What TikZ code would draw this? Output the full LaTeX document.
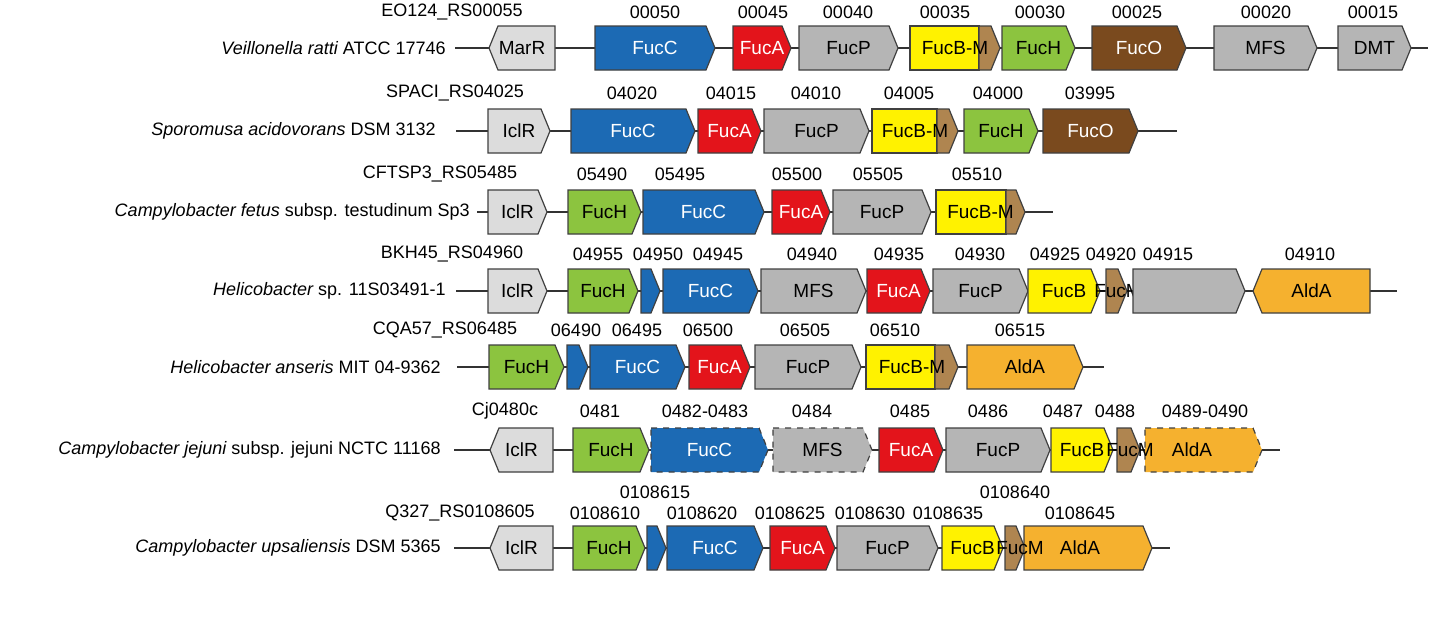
\documentclass[tikz,border=0pt]{standalone}
\usepackage{fontspec}
\setmainfont{Liberation Sans}
\definecolor{lg}{HTML}{DCDCDC}
\definecolor{mg}{HTML}{B5B5B5}
\definecolor{fb}{HTML}{1C6AB4}
\definecolor{fr}{HTML}{E3141B}
\definecolor{fy}{HTML}{FFF200}
\definecolor{fm}{HTML}{AF8550}
\definecolor{fgr}{HTML}{8CC43F}
\definecolor{fo}{HTML}{7A4A1E}
\definecolor{al}{HTML}{F5B12F}
\tikzset{gbox/.style={draw=black!75,line width=0.6pt,line join=miter},
  gtxt/.style={font=\fontsize{9.5}{11}\selectfont,inner sep=0pt},
  ltxt/.style={font=\fontsize{9}{11}\selectfont,inner sep=0pt},
  stxt/.style={font=\fontsize{9}{11}\selectfont,inner sep=0pt,anchor=east},
  bline/.style={draw=black!80,line width=0.8pt}}
% right-pointing gene: opts, x1, x2, y, fill, text, textcolor
\newcommand\gR[7]{\fill[#5] (#2,#4-22)--(#3-9,#4-22)--(#3,#4)--(#3-9,#4+22)--(#2,#4+22)--cycle;
 \draw[gbox,#1] (#2,#4-22)--(#3-9,#4-22)--(#3,#4)--(#3-9,#4+22)--(#2,#4+22)--cycle;
 \node[gtxt,text=#7] at ({(#2+#3)/2},#4) {#6};}
\newcommand\gL[7]{\fill[#5] (#3,#4-22)--(#2+9,#4-22)--(#2,#4)--(#2+9,#4+22)--(#3,#4+22)--cycle;
 \draw[gbox,#1] (#3,#4-22)--(#2+9,#4-22)--(#2,#4)--(#2+9,#4+22)--(#3,#4+22)--cycle;
 \node[gtxt,text=#7] at ({(#2+#3)/2},#4) {#6};}
% FucB-M fused: x1 x2 x3 y
\newcommand\gBM[4]{\draw[gbox,fill=fy] (#1,#4-22) rectangle (#2,#4+22);
 \gR{}{#2}{#3}{#4}{fm}{}{black}
 \node[gtxt] at ({(#1+#3)/2},#4) {FucB-M};}
\newcommand\lab[3]{\node[ltxt] at (#1,#2) {#3};}
\begin{document}
\begin{tikzpicture}[x=0.5pt,y=-0.5pt]
\useasboundingbox[fill=white] (0,0) rectangle (1440,622);
% Row 1
\node[stxt] (s1) at (446,48) {\itshape Veillonella ratti\upshape\ ATCC 17746};
\draw[bline] (455,48) -- (1428,48);
\gL{}{489}{555}{48}{lg}{MarR}{black}
\gR{}{595}{715}{48}{fb}{FucC}{white}
\gR{}{733}{791}{48}{fr}{FucA}{white}
\gR{}{799}{898}{48}{mg}{FucP}{black}
\gBM{910}{979}{1000}{48}
\gR{}{1002}{1075}{48}{fgr}{FucH}{black}
\gR{}{1092}{1186}{48}{fo}{FucO}{white}
\gR{}{1214}{1317}{48}{mg}{MFS}{black}
\gR{}{1338}{1411}{48}{mg}{DMT}{black}
\lab{452}{12}{EO124\_RS00055}\lab{655}{12}{00050}\lab{763}{12}{00045}\lab{848}{12}{00040}\lab{945}{12}{00035}\lab{1040}{12}{00030}\lab{1137}{12}{00025}\lab{1266}{12}{00020}\lab{1373}{12}{00015}
% Row 2
\node[stxt] (s2) at (436,131) {\itshape Sporomusa acidovorans\upshape\ DSM 3132};
\draw[bline] (456,131) -- (1177,131);
\gR{}{488}{550}{131}{lg}{IclR}{black}
\gR{}{571}{695}{131}{fb}{FucC}{white}
\gR{}{698}{761}{131}{fr}{FucA}{white}
\gR{}{764}{869}{131}{mg}{FucP}{black}
\gBM{872}{937}{958}{131}
\gR{}{964}{1038}{131}{fgr}{FucH}{black}
\gR{}{1043}{1138}{131}{fo}{FucO}{white}
\lab{455}{93}{SPACI\_RS04025}\lab{632}{93}{04020}\lab{731}{93}{04015}\lab{816}{93}{04010}\lab{909}{93}{04005}\lab{998}{93}{04000}\lab{1090}{93}{03995}
% Row 3
\node[stxt] (s3) at (470,212) {\itshape Campylobacter fetus\upshape\ subsp. testudinum Sp3};
\draw[bline] (477,212) -- (1053,212);
\gR{}{488}{547}{212}{lg}{IclR}{black}
\gR{}{568}{641}{212}{fgr}{FucH}{black}
\gR{}{643}{764}{212}{fb}{FucC}{white}
\gR{}{772}{830}{212}{fr}{FucA}{white}
\gR{}{833}{931}{212}{mg}{FucP}{black}
\gBM{936}{1006}{1025}{212}
\lab{440}{174}{CFTSP3\_RS05485}\lab{602}{174}{05490}\lab{680}{174}{05495}\lab{797}{174}{05500}\lab{878}{174}{05505}\lab{977}{174}{05510}
% Row 4
\node[stxt] (s4) at (446,291) {\itshape Helicobacter\upshape\ sp. 11S03491-1};
\draw[bline] (456,291) -- (1397,291);
\gR{}{488}{547}{291}{lg}{IclR}{black}
\gR{}{568}{638}{291}{fgr}{FucH}{black}
\gR{}{641}{660}{291}{fb}{}{white}
\gR{}{663}{758}{291}{fb}{FucC}{white}
\gR{}{761}{866}{291}{mg}{MFS}{black}
\gR{}{867}{930}{291}{fr}{FucA}{white}
\gR{}{933}{1028}{291}{mg}{FucP}{black}
\gR{}{1028}{1100}{291}{fy}{FucB}{black}
\gR{}{1106}{1127}{291}{fm}{}{black}
\node[gtxt] at (1118,291) {FucM};
\gR{}{1133}{1245}{291}{mg}{}{black}
\gL{}{1253}{1370}{291}{al}{AldA}{black}
\lab{452}{254}{BKH45\_RS04960}\lab{598}{254}{04955}\lab{658}{254}{04950}\lab{718}{254}{04945}\lab{812}{254}{04940}\lab{899}{254}{04935}\lab{980}{254}{04930}\lab{1055}{254}{04925}\lab{1111}{254}{04920}\lab{1168}{254}{04915}\lab{1310}{254}{04910}
% Row 5
\node[stxt] (s5) at (441,367) {\itshape Helicobacter anseris\upshape\ MIT 04-9362};
\draw[bline] (457,367) -- (1104,367);
\gR{}{489}{564}{367}{fgr}{FucH}{black}
\gR{}{567}{588}{367}{fb}{}{white}
\gR{}{590}{685}{367}{fb}{FucC}{white}
\gR{}{689}{750}{367}{fr}{FucA}{white}
\gR{}{755}{861}{367}{mg}{FucP}{black}
\gBM{866}{935}{958}{367}
\gR{}{967}{1083}{367}{al}{AldA}{black}
\lab{445}{330}{CQA57\_RS06485}\lab{576}{330}{06490}\lab{637}{330}{06495}\lab{708}{330}{06500}\lab{805}{330}{06505}\lab{895}{330}{06510}\lab{1020}{330}{06515}
% Row 6
\node[stxt] (s6) at (441,450) {\itshape Campylobacter jejuni\upshape\ subsp. jejuni NCTC 11168};
\draw[bline] (454,450) -- (1280,450);
\gL{}{490}{553}{450}{lg}{IclR}{black}
\gR{}{573}{649}{450}{fgr}{FucH}{black}
\gR{dashed}{651}{768}{450}{fb}{FucC}{white}
\gR{dashed}{773}{872}{450}{mg}{MFS}{black}
\gR{}{879}{943}{450}{fr}{FucA}{white}
\gR{}{946}{1050}{450}{mg}{FucP}{black}
\gR{}{1051}{1113}{450}{fy}{FucB}{black}
\gR{}{1117}{1140}{450}{fm}{}{black}
\gR{dashed}{1145}{1262}{450}{al}{}{black}
\node[gtxt] at (1130,450) {FucM};
\node[gtxt] at (1192,450) {AldA};
\lab{505}{411}{Cj0480c}\lab{600}{411}{0481}\lab{705}{411}{0482-0483}\lab{812}{411}{0484}\lab{910}{411}{0485}\lab{988}{411}{0486}\lab{1063}{411}{0487}\lab{1115}{411}{0488}\lab{1205}{411}{0489-0490}
% Row 7
\node[stxt] (s7) at (441,548) {\itshape Campylobacter upsaliensis\upshape\ DSM 5365};
\draw[bline] (454,548) -- (1170,548);
\gL{}{490}{553}{548}{lg}{IclR}{black}
\gR{}{573}{645}{548}{fgr}{FucH}{black}
\gR{}{647}{666}{548}{fb}{}{white}
\gR{}{667}{763}{548}{fb}{FucC}{white}
\gR{}{770}{835}{548}{fr}{FucA}{white}
\gR{}{837}{938}{548}{mg}{FucP}{black}
\gR{}{942}{1003}{548}{fy}{FucB}{black}
\gR{}{1005}{1025}{548}{fm}{}{black}
\gR{}{1024}{1152}{548}{al}{}{black}
\node[gtxt] at (1020,548) {FucM};
\node[gtxt] at (1080,548) {AldA};
\lab{460}{513}{Q327\_RS0108605}\lab{605}{513}{0108610}\lab{655}{492}{0108615}\lab{702}{513}{0108620}\lab{790}{513}{0108625}\lab{870}{513}{0108630}\lab{948}{513}{0108635}\lab{1015}{492}{0108640}\lab{1080}{513}{0108645}
\end{tikzpicture}
\end{document}
